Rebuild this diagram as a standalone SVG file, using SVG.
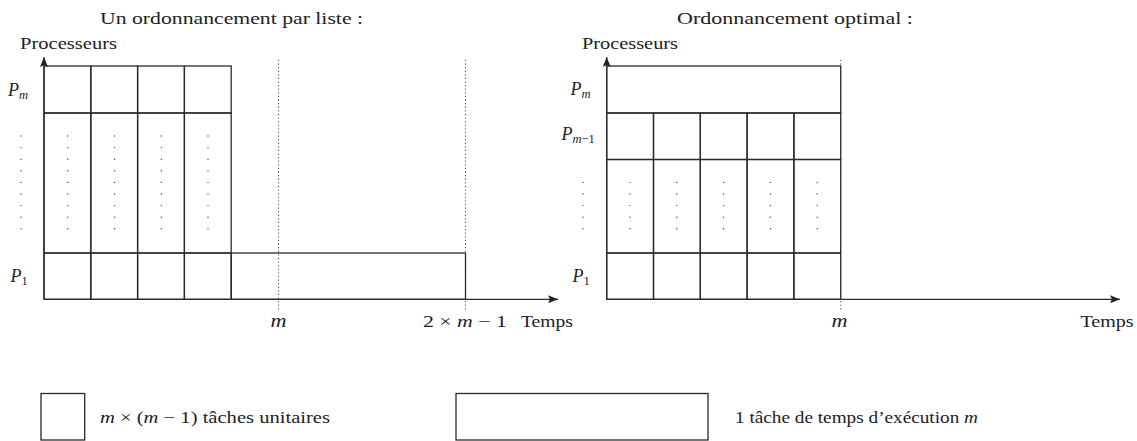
<svg xmlns="http://www.w3.org/2000/svg" width="1137" height="441" viewBox="0 0 1137 441">
<style>
text{font-family:"Liberation Serif","Times New Roman",serif;font-size:16px;fill:#222}
.i{font-style:italic}
.pl{font-size:18px}
.sub{font-style:italic;font-size:12.5px}
.ax{font-style:italic;font-size:18px}
.cell{fill:none;stroke:#2a2a2a;stroke-width:1.3}
.axis{fill:none;stroke:#2a2a2a;stroke-width:1.3}
.dotl{fill:none;stroke:#333;stroke-width:1;stroke-dasharray:1 2.6}
.dot{fill:#444}
</style>
<defs>
<marker id="ah" viewBox="0 0 10 8" refX="10" refY="4" markerWidth="10" markerHeight="8" markerUnits="userSpaceOnUse" orient="auto">
<path d="M0,0 L10,4 L0,8 L2,4 Z" fill="#222"/>
</marker>
</defs>

<!-- titles -->
<text x="100" y="24" textLength="263" lengthAdjust="spacingAndGlyphs">Un ordonnancement par liste  :</text>
<text x="677" y="24" textLength="236" lengthAdjust="spacingAndGlyphs">Ordonnancement optimal  :</text>

<!-- left chart -->
<g id="list-schedule">
<g id="list-grid">
<rect class="cell" x="44" y="66" width="46.8" height="47"/>
<rect class="cell" x="90.8" y="66" width="46.8" height="47"/>
<rect class="cell" x="137.6" y="66" width="46.8" height="47"/>
<rect class="cell" x="184.4" y="66" width="46.8" height="47"/>
<rect class="cell" x="44" y="113" width="46.8" height="140"/>
<rect class="cell" x="90.8" y="113" width="46.8" height="140"/>
<rect class="cell" x="137.6" y="113" width="46.8" height="140"/>
<rect class="cell" x="184.4" y="113" width="46.8" height="140"/>
<rect class="cell" x="44" y="253" width="46.8" height="46.3"/>
<rect class="cell" x="90.8" y="253" width="46.8" height="46.3"/>
<rect class="cell" x="137.6" y="253" width="46.8" height="46.3"/>
<rect class="cell" x="184.4" y="253" width="46.8" height="46.3"/>
<rect id="long-task-left" class="cell" x="231.2" y="253" width="234.3" height="46.3"/>
</g>
<g id="list-dots">
<line class="dotl" x1="278.5" y1="60" x2="278.5" y2="312"/>
<line class="dotl" x1="465.5" y1="60" x2="465.5" y2="312"/>
</g>
<g id="list-vdots" class="dot">
<circle cx="21" cy="136" r="0.7"/><circle cx="21" cy="147.6" r="0.7"/><circle cx="21" cy="159.2" r="0.7"/><circle cx="21" cy="170.8" r="0.7"/><circle cx="21" cy="182.4" r="0.7"/><circle cx="21" cy="194" r="0.7"/><circle cx="21" cy="205.6" r="0.7"/><circle cx="21" cy="217.2" r="0.7"/><circle cx="21" cy="228.8" r="0.7"/>
<circle cx="67.7" cy="136" r="0.7"/><circle cx="67.7" cy="147.6" r="0.7"/><circle cx="67.7" cy="159.2" r="0.7"/><circle cx="67.7" cy="170.8" r="0.7"/><circle cx="67.7" cy="182.4" r="0.7"/><circle cx="67.7" cy="194" r="0.7"/><circle cx="67.7" cy="205.6" r="0.7"/><circle cx="67.7" cy="217.2" r="0.7"/><circle cx="67.7" cy="228.8" r="0.7"/>
<circle cx="114.6" cy="136" r="0.7"/><circle cx="114.6" cy="147.6" r="0.7"/><circle cx="114.6" cy="159.2" r="0.7"/><circle cx="114.6" cy="170.8" r="0.7"/><circle cx="114.6" cy="182.4" r="0.7"/><circle cx="114.6" cy="194" r="0.7"/><circle cx="114.6" cy="205.6" r="0.7"/><circle cx="114.6" cy="217.2" r="0.7"/><circle cx="114.6" cy="228.8" r="0.7"/>
<circle cx="161.3" cy="136" r="0.7"/><circle cx="161.3" cy="147.6" r="0.7"/><circle cx="161.3" cy="159.2" r="0.7"/><circle cx="161.3" cy="170.8" r="0.7"/><circle cx="161.3" cy="182.4" r="0.7"/><circle cx="161.3" cy="194" r="0.7"/><circle cx="161.3" cy="205.6" r="0.7"/><circle cx="161.3" cy="217.2" r="0.7"/><circle cx="161.3" cy="228.8" r="0.7"/>
<circle cx="208" cy="136" r="0.7"/><circle cx="208" cy="147.6" r="0.7"/><circle cx="208" cy="159.2" r="0.7"/><circle cx="208" cy="170.8" r="0.7"/><circle cx="208" cy="182.4" r="0.7"/><circle cx="208" cy="194" r="0.7"/><circle cx="208" cy="205.6" r="0.7"/><circle cx="208" cy="217.2" r="0.7"/><circle cx="208" cy="228.8" r="0.7"/>
</g>
<g id="list-labels">
<text x="20" y="49" textLength="97" lengthAdjust="spacingAndGlyphs">Processeurs</text>
<text class="pl" x="8" y="96"><tspan class="i">P</tspan><tspan class="sub" dy="3">m</tspan></text>
<text class="pl" x="10.5" y="282"><tspan class="i">P</tspan><tspan class="sub" dy="3" style="font-style:normal">1</tspan></text>
<text class="ax" x="270.5" y="327" textLength="16" lengthAdjust="spacingAndGlyphs">m</text>
<text x="423" y="327" textLength="84" lengthAdjust="spacingAndGlyphs">2 × <tspan class="i">m</tspan> − 1</text>
<text x="521" y="327" textLength="52" lengthAdjust="spacingAndGlyphs">Temps</text>
</g>
</g>

<!-- right chart -->
<g id="optimal-schedule">
<g id="opt-grid">
<rect id="long-task-right" class="cell" x="606.7" y="66" width="234" height="47"/>
<rect class="cell" x="606.7" y="113" width="46.8" height="46.5"/>
<rect class="cell" x="653.5" y="113" width="46.8" height="46.5"/>
<rect class="cell" x="700.3" y="113" width="46.8" height="46.5"/>
<rect class="cell" x="747.1" y="113" width="46.8" height="46.5"/>
<rect class="cell" x="793.9" y="113" width="46.8" height="46.5"/>
<rect class="cell" x="606.7" y="159.5" width="46.8" height="93.5"/>
<rect class="cell" x="653.5" y="159.5" width="46.8" height="93.5"/>
<rect class="cell" x="700.3" y="159.5" width="46.8" height="93.5"/>
<rect class="cell" x="747.1" y="159.5" width="46.8" height="93.5"/>
<rect class="cell" x="793.9" y="159.5" width="46.8" height="93.5"/>
<rect class="cell" x="606.7" y="253" width="46.8" height="46.3"/>
<rect class="cell" x="653.5" y="253" width="46.8" height="46.3"/>
<rect class="cell" x="700.3" y="253" width="46.8" height="46.3"/>
<rect class="cell" x="747.1" y="253" width="46.8" height="46.3"/>
<rect class="cell" x="793.9" y="253" width="46.8" height="46.3"/>
</g>
<g id="opt-dots">
<line class="dotl" x1="840.7" y1="60" x2="840.7" y2="312"/>
</g>
<g id="opt-vdots" class="dot">
<circle cx="583" cy="182.4" r="0.7"/><circle cx="583" cy="194" r="0.7"/><circle cx="583" cy="205.6" r="0.7"/><circle cx="583" cy="217.2" r="0.7"/><circle cx="583" cy="228.8" r="0.7"/>
<circle cx="630" cy="182.4" r="0.7"/><circle cx="630" cy="194" r="0.7"/><circle cx="630" cy="205.6" r="0.7"/><circle cx="630" cy="217.2" r="0.7"/><circle cx="630" cy="228.8" r="0.7"/>
<circle cx="676.8" cy="182.4" r="0.7"/><circle cx="676.8" cy="194" r="0.7"/><circle cx="676.8" cy="205.6" r="0.7"/><circle cx="676.8" cy="217.2" r="0.7"/><circle cx="676.8" cy="228.8" r="0.7"/>
<circle cx="723.6" cy="182.4" r="0.7"/><circle cx="723.6" cy="194" r="0.7"/><circle cx="723.6" cy="205.6" r="0.7"/><circle cx="723.6" cy="217.2" r="0.7"/><circle cx="723.6" cy="228.8" r="0.7"/>
<circle cx="770.4" cy="182.4" r="0.7"/><circle cx="770.4" cy="194" r="0.7"/><circle cx="770.4" cy="205.6" r="0.7"/><circle cx="770.4" cy="217.2" r="0.7"/><circle cx="770.4" cy="228.8" r="0.7"/>
<circle cx="817.2" cy="182.4" r="0.7"/><circle cx="817.2" cy="194" r="0.7"/><circle cx="817.2" cy="205.6" r="0.7"/><circle cx="817.2" cy="217.2" r="0.7"/><circle cx="817.2" cy="228.8" r="0.7"/>
</g>
<g id="opt-labels">
<text x="582" y="49" textLength="96" lengthAdjust="spacingAndGlyphs">Processeurs</text>
<text class="pl" x="570.5" y="95"><tspan class="i">P</tspan><tspan class="sub" dy="3">m</tspan></text>
<text class="pl" x="561.5" y="140"><tspan class="i">P</tspan><tspan class="sub" dy="3">m</tspan><tspan class="sub" style="font-style:normal">−1</tspan></text>
<text class="pl" x="572.5" y="282"><tspan class="i">P</tspan><tspan class="sub" dy="3" style="font-style:normal">1</tspan></text>
<text class="ax" x="831.5" y="327" textLength="16" lengthAdjust="spacingAndGlyphs">m</text>
<text x="1080.5" y="327" textLength="53" lengthAdjust="spacingAndGlyphs">Temps</text>
</g>
</g>

<!-- connectors: axes -->
<g id="connectors">
<line class="axis" x1="44" y1="299.3" x2="44" y2="57" marker-end="url(#ah)"/>
<line class="axis" x1="44" y1="299.3" x2="558" y2="299.3" marker-end="url(#ah)"/>
<line class="axis" x1="606.7" y1="299.3" x2="606.7" y2="57" marker-end="url(#ah)"/>
<line class="axis" x1="606.7" y1="299.3" x2="1120" y2="299.3" marker-end="url(#ah)"/>
</g>

<!-- legend -->
<g id="legend-unit">
<rect class="cell" x="41" y="393.5" width="43.7" height="46.5"/>
<text x="100" y="423" textLength="230" lengthAdjust="spacingAndGlyphs"><tspan class="i">m</tspan> × (<tspan class="i">m</tspan> − 1) tâches unitaires</text>
</g>
<g id="legend-long">
<rect class="cell" x="456" y="393.5" width="252" height="46.5"/>
<text x="735" y="423" textLength="243" lengthAdjust="spacingAndGlyphs">1 tâche de temps d’exécution <tspan class="i">m</tspan></text>
</g>
</svg>
